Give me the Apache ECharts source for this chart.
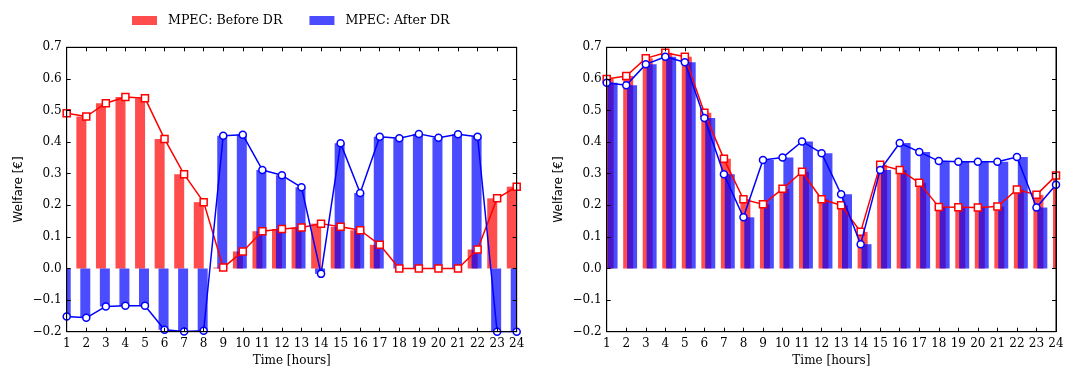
<!DOCTYPE html>
<html>
<head>
<meta charset="utf-8">
<script src="https://cdn.jsdelivr.net/npm/echarts@6/dist/echarts.min.js"></script>
<style>
  html, body { margin: 0; padding: 0; background: #fff; }
  #chart { width: 1076px; height: 381px; }
</style>
</head>
<body>
<div id="chart"></div>
<script>
// hours of the day
const hours = [1, 2, 3, 4, 5, 6, 7, 8, 9, 10, 11, 12, 13, 14, 15, 16, 17, 18, 19, 20, 21, 22, 23, 24];

// left panel
const leftBefore = [0.491, 0.481, 0.523, 0.543, 0.539, 0.410, 0.298, 0.210, 0.003, 0.054, 0.118, 0.125,
                    0.130, 0.142, 0.132, 0.121, 0.075, 0.0, 0.0, 0.0, 0.0, 0.060, 0.222, 0.259];
const leftAfter = [-0.152, -0.156, -0.120, -0.118, -0.118, -0.194, -0.199, -0.197, 0.420, 0.423, 0.312, 0.295,
                   0.257, -0.017, 0.396, 0.239, 0.417, 0.412, 0.426, 0.414, 0.425, 0.417, -0.200, -0.200];

// right panel
const rightBefore = [0.600, 0.609, 0.665, 0.683, 0.670, 0.493, 0.347, 0.219, 0.203, 0.252, 0.306, 0.219,
                     0.200, 0.116, 0.328, 0.312, 0.271, 0.195, 0.194, 0.193, 0.196, 0.250, 0.233, 0.294];
const rightAfter = [0.588, 0.580, 0.646, 0.670, 0.653, 0.476, 0.298, 0.162, 0.343, 0.351, 0.402, 0.365,
                    0.235, 0.077, 0.312, 0.397, 0.369, 0.340, 0.338, 0.338, 0.338, 0.353, 0.193, 0.265];

const seriesNames = ['MPEC: Before DR', 'MPEC: After DR'];

const RED_BAR = 'rgba(255,0,0,0.7)';
const BLUE_BAR = 'rgba(0,0,255,0.7)';
const SERIF = 'DejaVu Serif';

const pairs = vals => hours.map((h, i) => [h, vals[i]]);
const yFmt = v => (Math.round(v * 10) / 10).toFixed(1).replace('-', '\u2212');

const grids = [
    {left: 66.7, top: 47.3, width: 450, height: 284.4, show: true, borderColor: '#000', borderWidth: 1, z: 10},
    {left: 606.7, top: 47.3, width: 449.3, height: 284.4, show: true, borderColor: '#000', borderWidth: 1, z: 10}
];

function tickAxis(grid, pos, labels){
    return {
        type: 'value', gridIndex: grid, position: pos, min: 1, max: 24, interval: 1, z: 10,
        axisLine: {show: true, onZero: false, lineStyle: {color: '#000', width: 1}},
        axisTick: {show: true, inside: true, length: 4, lineStyle: {color: '#000'}},
        axisLabel: {show: labels, color: '#000', fontFamily: SERIF, fontSize: 12, margin: 6},
        splitLine: {show: false},
        name: labels ? 'Time [hours]' : '', nameLocation: 'middle', nameGap: 22,
        nameTextStyle: {color: '#000', fontFamily: SERIF, fontSize: 12}
    };
}

// hidden axes that only shift the bars sideways
function shiftAxis(grid, shift){
    return {type: 'value', gridIndex: grid, min: 1 - shift, max: 24 - shift, show: false};
}

function yAxis(grid, pos, labels){
    return {
        type: 'value', gridIndex: grid, position: pos, min: -0.2, max: 0.7, interval: 0.1, z: 10,
        axisLine: {show: true, lineStyle: {color: '#000', width: 1}},
        axisTick: {show: true, inside: true, length: 4, lineStyle: {color: '#000'}},
        axisLabel: {show: labels, color: '#000', fontFamily: SERIF, fontSize: 12, margin: 5, formatter: yFmt},
        splitLine: {show: false},
        name: labels ? 'Welfare [€]' : '', nameLocation: 'middle', nameGap: 42,
        nameTextStyle: {color: '#000', fontFamily: 'DejaVu Sans', fontSize: 12}
    };
}

let xAxes = [
    tickAxis(0, 'bottom', true), tickAxis(0, 'top', false), shiftAxis(0, -0.25), shiftAxis(0, -0.05),
    tickAxis(1, 'bottom', true), tickAxis(1, 'top', false), shiftAxis(1, 0.1), shiftAxis(1, 0.3)
];
let yAxes = [yAxis(0, 'left', true), yAxis(0, 'right', false), yAxis(1, 'left', true), yAxis(1, 'right', false)];

function panel(before, after, xBase, yIdx){
    return [{
        name: seriesNames[0], type: 'bar', xAxisIndex: xBase + 2, yAxisIndex: yIdx, z: 2,
        barWidth: 10, itemStyle: {color: RED_BAR}, data: pairs(before)
    }, {
        name: seriesNames[1], type: 'bar', xAxisIndex: xBase + 3, yAxisIndex: yIdx, z: 2,
        barWidth: 10, itemStyle: {color: BLUE_BAR}, data: pairs(after)
    }, {
        name: 'before line', type: 'line', xAxisIndex: xBase, yAxisIndex: yIdx,
        symbol: 'rect', symbolSize: 7, showAllSymbol: true,
        lineStyle: {color: '#ff0000', width: 1.5},
        itemStyle: {color: '#fff', borderColor: '#ff0000', borderWidth: 1.5},
        data: pairs(before), z: 4
    }, {
        name: 'after line', type: 'line', xAxisIndex: xBase, yAxisIndex: yIdx,
        symbol: 'circle', symbolSize: 7, showAllSymbol: true,
        lineStyle: {color: '#0000ff', width: 1.5},
        itemStyle: {color: '#fff', borderColor: '#0000ff', borderWidth: 1.5},
        data: pairs(after), z: 5
    }];
}

// white strips beside each plot area, so bars that spill past the frame are hidden
// (bars on a value axis are not clipped at the frame by echarts)
let masks = [];
grids.forEach(g => {
    let top = g.top - 2, h = g.height + 4;
    masks.push({type: 'rect', z: 3, silent: true, shape: {x: g.left - 14, y: top, width: 14, height: h}, style: {fill: '#fff'}});
    masks.push({type: 'rect', z: 3, silent: true, shape: {x: g.left + g.width, y: top, width: 14, height: h}, style: {fill: '#fff'}});
});

let ec = echarts.init(document.getElementById('chart'), null, {renderer: 'canvas'});
let option = {
    animation: false,
    backgroundColor: '#fff',
    legend: {
        data: seriesNames,
        left: 132, top: 14, padding: 0,
        icon: 'rect', itemWidth: 25, itemHeight: 9, itemGap: 27,
        textStyle: {color: '#000', fontFamily: SERIF, fontSize: 12.6, padding: [0, 0, 0, 6]}
    },
    graphic: {elements: masks},
    grid: grids,
    xAxis: xAxes,
    yAxis: yAxes,
    series: panel(leftBefore, leftAfter, 0, 0).concat(panel(rightBefore, rightAfter, 4, 2))
};
ec.setOption(option);
</script>
</body>
</html>
